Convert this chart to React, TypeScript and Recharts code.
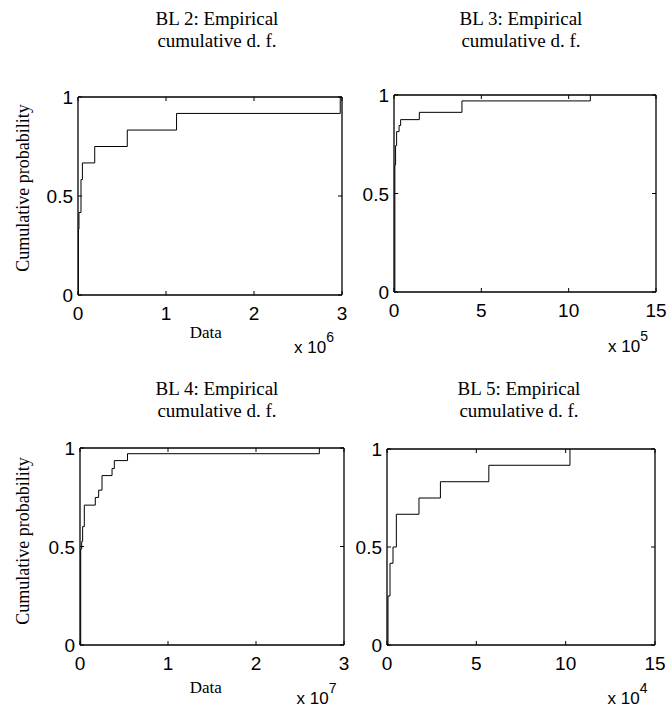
import React from 'react';
import { Line, LineChart, ReferenceLine, XAxis, YAxis } from 'recharts';

// x values are in units of the axis multiplier shown under each panel (x 10^n)
const bl2Values = [0, 0.004, 0.011, 0.034, 0.05, 0.19, 0.56, 1.12, 2.98];
const bl2Probs = [0, 0.333, 0.417, 0.583, 0.667, 0.75, 0.833, 0.917, 1];

const bl3Values = [0, 0.05, 0.09, 0.15, 0.29, 0.38, 1.45, 3.89, 11.24];
const bl3Probs = [0, 0.645, 0.743, 0.814, 0.845, 0.875, 0.912, 0.97, 1];

const bl4Values = [0, 0.008, 0.019, 0.03, 0.049, 0.174, 0.212, 0.25, 0.364, 0.39, 0.54, 2.72];
const bl4Probs = [0, 0.487, 0.525, 0.601, 0.71, 0.749, 0.786, 0.86, 0.896, 0.936, 0.971, 1];

const bl5Values = [0, 0.056, 0.168, 0.336, 0.523, 1.79, 2.99, 5.7, 10.24];
const bl5Probs = [0, 0.25, 0.417, 0.5, 0.667, 0.75, 0.833, 0.917, 1];

const ticks0to3 = [0, 1, 2, 3];
const ticks0to15 = [0, 5, 10, 15];
const yTicks = [0, 0.5, 1];

const SANS = '"Liberation Sans", Arial, sans-serif';
const SERIF = '"Liberation Serif", "Times New Roman", serif';

const PAD_L = 50;
const PAD_T = 12;
const PAD_R = 12;
const PAD_B = 40;

interface Rect {
    l: number;
    t: number;
    r: number;
    b: number;
}

const XTick = (props: any) => {
    const { x, y, payload, h } = props;
    return (
        <g>
            <line x1={x} y1={y} x2={x} y2={y - 4} stroke="#000" />
            <line x1={x} y1={y - h} x2={x} y2={y - h + 4} stroke="#000" />
            <text x={x} y={y + 25} textAnchor="middle" fontFamily={SANS} fontSize={19} fill="#000">
                {payload.value}
            </text>
        </g>
    );
};

const YTick = (props: any) => {
    const { x, y, payload, w } = props;
    return (
        <g>
            <line x1={x} y1={y} x2={x + 4} y2={y} stroke="#000" />
            <line x1={x + w} y1={y} x2={x + w - 4} y2={y} stroke="#000" />
            <text x={x - 5} y={y + 7} textAnchor="end" fontFamily={SANS} fontSize={19} fill="#000">
                {payload.value}
            </text>
        </g>
    );
};

const CdfPanel: React.FC<{ rect: Rect; values: number[]; probs: number[]; xTicks: number[] }> = ({
    rect,
    values,
    probs,
    xTicks,
}) => {
    const w = rect.r - rect.l;
    const h = rect.b - rect.t;
    const data = values.map((x, i) => ({ x, p: probs[i] }));
    const xMax = xTicks[xTicks.length - 1];

    return (
        <div style={{ position: 'absolute', left: rect.l - PAD_L, top: rect.t - PAD_T }}>
            <LineChart
                width={w + PAD_L + PAD_R}
                height={h + PAD_T + PAD_B}
                data={data}
                margin={{ top: PAD_T, right: PAD_R, bottom: 0, left: 0 }}
            >
                <XAxis
                    type="number"
                    dataKey="x"
                    domain={[0, xMax]}
                    ticks={xTicks}
                    interval={0}
                    allowDataOverflow
                    height={PAD_B}
                    tickSize={0}
                    tickMargin={0}
                    tickLine={false}
                    axisLine={{ stroke: '#000', strokeWidth: 1.3 }}
                    tick={(p: any) => <XTick {...p} h={h} />}
                />
                <YAxis
                    type="number"
                    domain={[0, 1]}
                    ticks={yTicks}
                    interval={0}
                    width={PAD_L}
                    tickSize={0}
                    tickMargin={0}
                    tickLine={false}
                    axisLine={{ stroke: '#000', strokeWidth: 1.3 }}
                    tick={(p: any) => <YTick {...p} w={w} />}
                />
                <ReferenceLine y={1} stroke="#000" strokeWidth={1.3} />
                <ReferenceLine x={xMax} stroke="#000" strokeWidth={1.3} />
                <Line
                    type="stepAfter"
                    dataKey="p"
                    stroke="#000"
                    strokeWidth={1}
                    dot={false}
                    isAnimationActive={false}
                />
            </LineChart>
        </div>
    );
};

const Title = ({ cx, y, name }: { cx: number; y: number; name: string }) => (
    <text textAnchor="middle" fontFamily={SERIF} fontSize={19} fill="#000">
        <tspan x={cx} y={y}>{`${name}: Empirical`}</tspan>
        <tspan x={cx} y={y + 22}>cumulative d. f.</tspan>
    </text>
);

const Multiplier = ({ x, y, exp }: { x: number; y: number; exp: number }) => (
    <text x={x} y={y} fontFamily={SANS} fontSize={17} fill="#000">
        x 10
        <tspan dy={-11} fontSize={14}>
            {exp}
        </tspan>
    </text>
);

const YLabel = ({ x, y }: { x: number; y: number }) => (
    <text
        x={x}
        y={y}
        transform={`rotate(-90 ${x} ${y})`}
        textAnchor="middle"
        fontFamily={SERIF}
        fontSize={18}
        fill="#000"
    >
        Cumulative probability
    </text>
);

export default function App() {
    return (
        <div style={{ position: 'absolute', left: 0, top: 0, width: 667, height: 711, background: '#fff' }}>
            <CdfPanel rect={{ l: 78, t: 97, r: 342, b: 295 }} values={bl2Values} probs={bl2Probs} xTicks={ticks0to3} />
            <CdfPanel rect={{ l: 394, t: 95, r: 656, b: 292 }} values={bl3Values} probs={bl3Probs} xTicks={ticks0to15} />
            <CdfPanel rect={{ l: 80, t: 448, r: 344, b: 645 }} values={bl4Values} probs={bl4Probs} xTicks={ticks0to3} />
            <CdfPanel rect={{ l: 387, t: 449, r: 655, b: 645 }} values={bl5Values} probs={bl5Probs} xTicks={ticks0to15} />
            <svg
                width={667}
                height={711}
                style={{ position: 'absolute', left: 0, top: 0, pointerEvents: 'none' }}
            >
                <Title cx={217} y={24.5} name="BL 2" />
                <Title cx={521} y={24.5} name="BL 3" />
                <Title cx={217} y={395} name="BL 4" />
                <Title cx={519} y={395} name="BL 5" />
                <YLabel x={29} y={188} />
                <YLabel x={29} y={541} />
                <text x={205.7} y={338} textAnchor="middle" fontFamily={SERIF} fontSize={17} fill="#000">
                    Data
                </text>
                <text x={205.7} y={693.3} textAnchor="middle" fontFamily={SERIF} fontSize={17} fill="#000">
                    Data
                </text>
                <Multiplier x={294} y={353.3} exp={6} />
                <Multiplier x={608} y={351.7} exp={5} />
                <Multiplier x={296.5} y={704} exp={7} />
                <Multiplier x={607.5} y={704} exp={4} />
            </svg>
        </div>
    );
}
